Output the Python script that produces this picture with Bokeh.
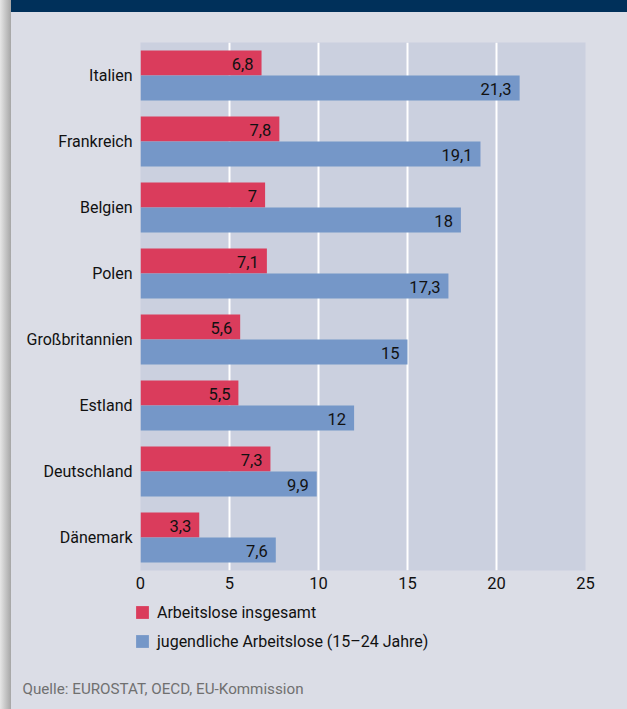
from bokeh.plotting import figure
from bokeh.models import ColumnDataSource, FactorRange, Legend, LegendItem, FixedTicker, Label, Range1d
from bokeh.transform import dodge
from bokeh.core.properties import value
from bokeh.embed import file_html
from bokeh.resources import INLINE

countries = ["Italien", "Frankreich", "Belgien", "Polen", "Großbritannien", "Estland", "Deutschland", "Dänemark"]
insgesamt = [6.8, 7.8, 7.0, 7.1, 5.6, 5.5, 7.3, 3.3]
jugendliche = [21.3, 19.1, 18.0, 17.3, 15.0, 12.0, 9.9, 7.6]
x_ticks = [0, 5, 10, 15, 20, 25]
series_names = ["Arbeitslose insgesamt", "jugendliche Arbeitslose (15–24 Jahre)"]
source_text = "Quelle: EUROSTAT, OECD, EU-Kommission"

RED = "#da3c5c"
BLUE = "#7597c8"
PLOT_BG = "#cbd0df"
BG = "#dbdde6"
NAVY = "#00305a"
FONT = "Roboto"
STRIP = "linear-gradient(to right, #e6e6e6, #a6a6a6) 0 0 / 11px 100% no-repeat"


def fmt(v):
    s = ("%.1f" % v)
    if s.endswith(".0"):
        s = s[:-2]
    return s.replace(".", ",")


src = ColumnDataSource(dict(
    country=countries,
    ins=insgesamt,
    jug=jugendliche,
    ins_lbl=[fmt(v) for v in insgesamt],
    jug_lbl=[fmt(v) for v in jugendliche],
))

W = 627
H1 = 598
H2 = 709 - H1

# ---------------- main chart ----------------
p = figure(
    y_range=FactorRange(*reversed(countries), range_padding=0, factor_padding=0),
    x_range=(0, 25),
    width=W, height=H1,
    output_backend="svg", toolbar_location=None,
    min_border_left=140, min_border_right=42, min_border_top=42, min_border_bottom=28,
    styles={"background": "linear-gradient(%s, %s) 11px 0 / 100%% 12px no-repeat, %s, %s"
                          % (NAVY, NAVY, STRIP, BG)},
)
p.background_fill_color = PLOT_BG
p.border_fill_alpha = 0
p.outline_line_color = None

BH = 25 / 66
r1 = p.hbar(y=dodge("country", BH / 2, range=p.y_range), right="ins", left=0, height=BH,
            source=src, fill_color=RED, line_color=None)
r2 = p.hbar(y=dodge("country", -BH / 2, range=p.y_range), right="jug", left=0, height=BH,
            source=src, fill_color=BLUE, line_color=None)

for col, lbl, off in (("ins", "ins_lbl", BH / 2), ("jug", "jug_lbl", -BH / 2)):
    p.text(x=col, y=dodge("country", off, range=p.y_range), text=lbl, source=src,
           x_offset=-8, y_offset=1, text_align="right", text_baseline="middle",
           text_font=value(FONT), text_font_size="16.5px", text_color="#111111")

p.xgrid.grid_line_color = "white"
p.xgrid.grid_line_width = 2
p.xgrid.ticker = FixedTicker(ticks=[5, 10, 15, 20])
p.ygrid.grid_line_color = None

p.xaxis.ticker = FixedTicker(ticks=x_ticks)
for ax in (p.xaxis[0], p.yaxis[0]):
    ax.axis_line_color = None
    ax.major_tick_line_color = None
    ax.minor_tick_line_color = None
    ax.major_tick_out = 0
    ax.major_tick_in = 0
    ax.major_label_text_font = FONT
    ax.major_label_text_color = "#111111"
p.xaxis.major_label_text_font_size = "16.5px"
p.xaxis.major_label_standoff = 6
p.yaxis.major_label_text_font_size = "16px"
p.yaxis.major_label_standoff = 8

# ---------------- legend + source strip (separate root, no frame alignment) ----------------
q = figure(
    width=W, height=H2,
    x_range=Range1d(0, W), y_range=Range1d(0, H2),
    x_axis_type=None, y_axis_type=None,
    output_backend="svg", toolbar_location=None,
    min_border=0, min_border_left=0, min_border_right=0, min_border_top=0, min_border_bottom=0,
    styles={"background": "%s, %s" % (STRIP, BG)},
)
q.background_fill_alpha = 0
q.border_fill_alpha = 0
q.outline_line_color = None
q.xgrid.grid_line_color = None
q.ygrid.grid_line_color = None

# legend keys: zero-size copies of the two bar series (same data, same styles)
k1 = q.hbar(y="ins", left=0, right=0, height=0, source=src, fill_color=RED, line_color=None)
k2 = q.hbar(y="jug", left=0, right=0, height=0, source=src, fill_color=BLUE, line_color=None)

legend = Legend(
    items=[LegendItem(label=series_names[0], renderers=[k1]),
           LegendItem(label=series_names[1], renderers=[k2])],
    location=(134, 57),
    orientation="vertical",
    glyph_width=16, glyph_height=16,
    label_height=22, spacing=7, padding=0, margin=0,
    label_standoff=7,
    label_text_font=FONT, label_text_font_size="16px", label_text_color="#111111",
    background_fill_alpha=0, border_line_color=None,
)
q.add_layout(legend, "center")

q.add_layout(Label(x=22, y=21, x_units="screen", y_units="screen", text=source_text,
                   text_font=FONT, text_font_size="15.2px", text_color="#707070",
                   text_baseline="alphabetic", text_align="left"))

html = file_html([p, q], INLINE)
html = html.replace("<head>", "<head><style>html,body{margin:0;padding:0;}</style>", 1)
with open("out.html", "w") as f:
    f.write(html)
